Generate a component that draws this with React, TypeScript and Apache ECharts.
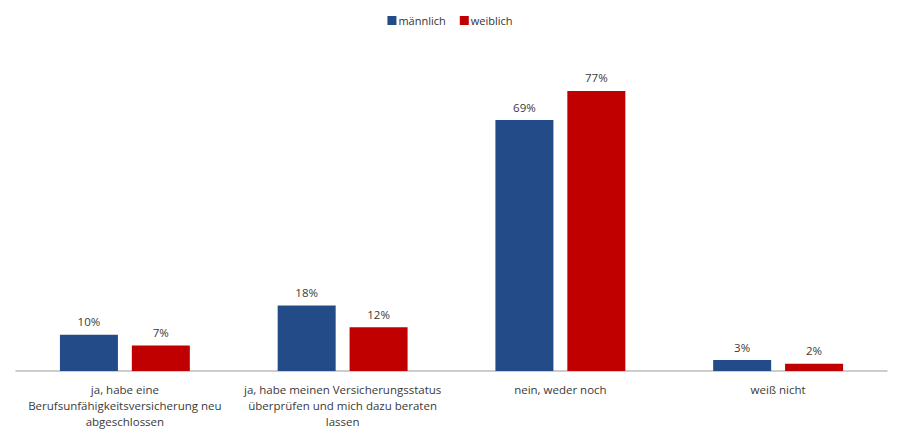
import * as echarts from 'echarts';
import React, { useEffect, useRef } from 'react';

const categories = [
  'ja, habe eine\nBerufsunfähigkeitsversicherung neu\nabgeschlossen',
  'ja, habe meinen Versicherungsstatus\nüberprüfen und mich dazu beraten\nlassen',
  'nein, weder noch',
  'weiß nicht',
];
const maleValues = [10, 18, 69, 3];
const femaleValues = [7, 12, 77, 2];
const seriesNames = ['männlich', 'weiblich'];

const FONT = '"Open Sans", "Noto Sans", sans-serif';

export default function App() {
  const chartRef = useRef<HTMLDivElement>(null);

  useEffect(() => {
    if (!chartRef.current) return;
    const chart = echarts.init(chartRef.current, null, { renderer: 'svg' });

    const label = {
      show: true,
      position: 'top',
      distance: 7,
      formatter: '{c}%',
      color: '#3a3a3a',
      fontSize: 11.5,
      fontFamily: FONT,
    };

    chart.setOption({
      animation: false,
      legend: {
        top: 10,
        left: 'center',
        itemWidth: 9,
        itemHeight: 9,
        itemGap: 14,
        icon: 'rect',
        textStyle: { color: '#333', fontSize: 11, fontFamily: FONT, padding: [0, 0, 0, -3] },
        data: seriesNames,
      },
      grid: { left: 16, right: 13, top: 40, bottom: 67, containLabel: false },
      xAxis: {
        type: 'category',
        data: categories,
        axisLine: { show: true, lineStyle: { color: '#bdbdbd', width: 1.5 } },
        axisTick: { show: false },
        axisLabel: {
          color: '#3a3a3a',
          fontSize: 11.5,
          fontFamily: FONT,
          lineHeight: 16,
          margin: 10,
          interval: 0,
        },
      },
      yAxis: {
        type: 'value',
        min: 0,
        max: 91,
        show: false,
        splitLine: { show: false },
      },
      series: [
        {
          name: seriesNames[0],
          type: 'bar',
          data: maleValues,
          barWidth: 58,
          barGap: '24%',
          itemStyle: { color: '#234b87' },
          label,
        },
        {
          name: seriesNames[1],
          type: 'bar',
          data: femaleValues,
          barWidth: 58,
          barGap: '24%',
          itemStyle: { color: '#c00000' },
          label,
        },
      ],
    });

    return () => {
      chart.dispose();
    };
  }, []);

  return <div ref={chartRef} style={{ width: 900, height: 438, margin: '-8px 0 0 -8px' }} />;
}
